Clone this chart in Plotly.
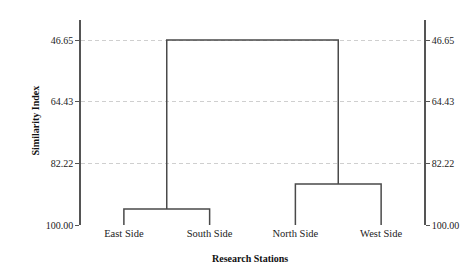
import plotly.graph_objects as go

leaves = ["East Side", "South Side", "North Side", "West Side"]
leaf_pos = [1, 2, 3, 4]
# merges: (left member, right member, similarity level)
merge_levels = [95.4, 88.2, 46.65]
tick_vals = [46.65, 64.43, 82.22, 100.00]
tick_text = ["46.65", "64.43", "82.22", "100.00"]
base = 100.0

# build dendrogram segments from data
xs, ys = [], []
h1, h2, h3 = merge_levels
# cluster A: East + South
xs += [leaf_pos[0], leaf_pos[0], leaf_pos[1], leaf_pos[1], None]
ys += [base, h1, h1, base, None]
# cluster B: North + West
xs += [leaf_pos[2], leaf_pos[2], leaf_pos[3], leaf_pos[3], None]
ys += [base, h2, h2, base, None]
cA = (leaf_pos[0] + leaf_pos[1]) / 2
cB = (leaf_pos[2] + leaf_pos[3]) / 2
xs += [cA, cA, cB, cB]
ys += [h1, h3, h3, h2]

yrange = [100.0, 40.88]
font = "Liberation Serif, Times New Roman, serif"

fig = go.Figure()
fig.add_trace(go.Scatter(x=xs, y=ys, mode="lines",
                         line=dict(color="#4a4a4a", width=1.5),
                         hoverinfo="skip", showlegend=False))
fig.add_trace(go.Scatter(x=[None], y=[None], yaxis="y2", showlegend=False,
                         hoverinfo="skip"))

fig.update_layout(
    width=474, height=273,
    margin=dict(l=81, r=50, t=20, b=48),
    paper_bgcolor="white", plot_bgcolor="white",
    font=dict(family=font, size=10, color="#222"),
    xaxis=dict(range=[0.5, 4.5], tickvals=leaf_pos, ticktext=leaves,
               showgrid=False, zeroline=False, showline=False, ticks="",
               tickfont=dict(size=10.5, family=font, color="#222")),
    yaxis=dict(range=yrange, tickvals=tick_vals, ticktext=tick_text,
               showgrid=True, gridcolor="#cfcfcf", griddash="4px,3px", gridwidth=1,
               zeroline=False, showline=True, linecolor="#555", linewidth=1.5,
               ticks="outside", ticklen=4, tickcolor="#555",
               tickfont=dict(size=10, family=font, color="#222")),
    yaxis2=dict(range=yrange, tickvals=tick_vals, ticktext=tick_text,
                overlaying="y", side="right", showgrid=False, zeroline=False,
                showline=True, linecolor="#555", linewidth=1.5,
                ticks="outside", ticklen=4, tickcolor="#555",
                tickfont=dict(size=10, family=font, color="#222")),
    annotations=[
        dict(text="<b>Research Stations</b>", xref="paper", yref="paper",
             x=0.493, y=-0.161, showarrow=False, yanchor="middle",
             font=dict(size=10, family=font, color="#111")),
        dict(text="<b>Similarity Index</b>", xref="paper", yref="paper",
             x=-0.134, y=0.51, showarrow=False, textangle=-90,
             xanchor="center", yanchor="middle",
             font=dict(size=10, family=font, color="#111")),
    ],
)

fig.write_html("out.html")
